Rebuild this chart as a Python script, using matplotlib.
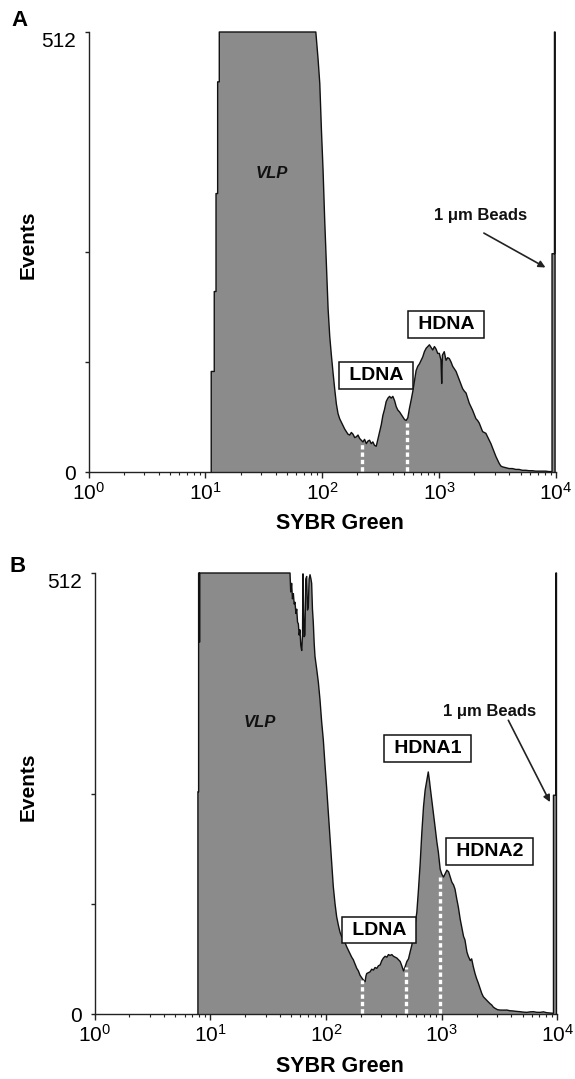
import matplotlib
matplotlib.use("Agg")
import matplotlib.pyplot as plt
import numpy as np

plt.rcParams['font.family'] = ['Liberation Sans', 'DejaVu Sans']
plt.rcParams['mathtext.fontset'] = 'custom'
plt.rcParams['mathtext.rm'] = 'Liberation Sans'
plt.rcParams['mathtext.it'] = 'Liberation Sans:italic'
plt.rcParams['mathtext.bf'] = 'Liberation Sans:bold'

# ---------------- data (log10 SYBR Green channel, events) ----------------
a_log = [1.050, 1.050, 1.076, 1.076, 1.091, 1.091, 1.105, 1.105, 1.119, 1.119,
         1.945, 1.955, 1.964, 1.979, 1.993, 2.007, 2.021, 2.036, 2.050, 2.064,
         2.078, 2.092, 2.107, 2.121, 2.135, 2.149, 2.163, 2.178, 2.192, 2.206,
         2.220, 2.235, 2.249, 2.263, 2.278, 2.292, 2.306, 2.320, 2.334, 2.348,
         2.362, 2.377, 2.391, 2.405, 2.419, 2.433, 2.447, 2.462, 2.476, 2.490,
         2.505, 2.519, 2.533, 2.547, 2.562, 2.576, 2.590, 2.604, 2.619, 2.633,
         2.647, 2.661, 2.675, 2.689, 2.704, 2.718, 2.732, 2.746, 2.761, 2.775,
         2.789, 2.803, 2.817, 2.832, 2.846, 2.860, 2.874, 2.889, 2.903, 2.917,
         2.931, 2.945, 2.960, 2.974, 2.988, 3.002, 3.016, 3.022, 3.028, 3.044,
         3.059, 3.073, 3.087, 3.102, 3.116, 3.130, 3.145, 3.159, 3.173, 3.187,
         3.201, 3.216, 3.230, 3.244, 3.258, 3.272, 3.286, 3.300, 3.315, 3.329,
         3.343, 3.357, 3.372, 3.386, 3.400, 3.414, 3.429, 3.443, 3.457, 3.471,
         3.486, 3.500, 3.514, 3.528, 3.542, 3.570, 3.599, 3.627, 3.656, 3.684,
         3.713, 3.741, 3.770, 3.798, 3.827, 3.855, 3.884, 3.912, 3.940, 3.966,
         3.966, 3.987, 3.987, 3.992, 3.992]
a_events = [0, 117, 117, 210, 210, 324, 324, 454, 454, 512,
            512, 495, 481, 452, 398, 351, 293, 239, 190, 158,
            136, 116, 96, 79, 68, 62, 58, 54, 50, 47,
            44, 43, 46, 44, 40, 41, 43, 39, 37, 35,
            38, 33, 36, 37, 33, 35, 31, 30, 38, 46,
            55, 66, 73, 82, 86, 88, 86, 88, 83, 76,
            72, 70, 67, 64, 61, 60, 63, 74, 84, 94,
            106, 118, 123, 126, 130, 134, 140, 144, 146, 148,
            145, 142, 146, 143, 138, 138, 130, 103, 136, 140,
            130, 133, 132, 128, 123, 120, 117, 112, 107, 102,
            97, 94, 92, 86, 80, 76, 72, 67, 62, 60,
            57, 52, 47, 46, 45, 41, 37, 33, 28, 23,
            18, 14, 10, 7, 6, 5, 4, 4, 3, 3,
            2, 2, 1.5, 1.5, 1, 1, 1, 1, 0.5, 0.5,
            254, 254, 512, 512, 0]

b_log = [0.893, 0.893, 0.899, 0.899, 0.904, 0.904, 0.909, 0.909,
         1.689, 1.695, 1.703, 1.710, 1.718, 1.725, 1.732, 1.740, 1.747, 1.754,
         1.761, 1.768, 1.775, 1.782, 1.790, 1.797, 1.801, 1.806, 1.811, 1.818,
         1.825, 1.833, 1.840, 1.847, 1.854, 1.862, 1.870, 1.876, 1.883, 1.890,
         1.898, 1.905, 1.920, 1.934, 1.948, 1.962, 1.977, 1.991, 2.006, 2.020,
         2.035, 2.049, 2.063, 2.078, 2.092, 2.107, 2.121, 2.135, 2.150, 2.164,
         2.179, 2.193, 2.208, 2.222, 2.236, 2.251, 2.266, 2.280, 2.294, 2.309,
         2.323, 2.338, 2.345, 2.352, 2.366, 2.381, 2.395, 2.410, 2.424, 2.439,
         2.453, 2.468, 2.482, 2.496, 2.511, 2.526, 2.540, 2.554, 2.569, 2.583,
         2.597, 2.612, 2.626, 2.641, 2.655, 2.670, 2.684, 2.699, 2.713, 2.727,
         2.742, 2.756, 2.770, 2.785, 2.799, 2.814, 2.828, 2.843, 2.857, 2.872,
         2.884, 2.895, 2.900, 2.913, 2.929, 2.942, 2.958, 2.971, 2.987, 3.002,
         3.016, 3.030, 3.045, 3.060, 3.074, 3.088, 3.102, 3.115, 3.131, 3.144,
         3.160, 3.173, 3.189, 3.201, 3.218, 3.230, 3.247, 3.259, 3.273, 3.288,
         3.302, 3.316, 3.331, 3.346, 3.360, 3.374, 3.388, 3.403, 3.418, 3.432,
         3.446, 3.461, 3.483, 3.504, 3.533, 3.562, 3.590, 3.619, 3.648, 3.677,
         3.706, 3.735, 3.764, 3.792, 3.821, 3.850, 3.879, 3.908, 3.937, 3.966,
         3.966, 3.987, 3.987, 3.992, 3.992]
b_events = [0, 258, 258, 512, 512, 432, 432, 512,
            512, 490, 500, 482, 488, 476, 478, 465, 470, 455,
            453, 440, 446, 428, 422, 440, 511, 470, 438, 440,
            505, 508, 469, 472, 505, 510, 505, 500, 470, 455,
            430, 415, 400, 385, 365, 340, 318, 290, 262, 234,
            205, 175, 148, 128, 113, 103, 95, 90, 86, 83,
            78, 74, 70, 66, 63, 58, 53, 50, 45, 42,
            39.5, 37.5, 44, 47, 48, 49, 52, 51, 54, 53,
            56, 57, 62, 65, 67, 66, 69, 68, 69, 67,
            66, 65, 63, 61, 56, 50, 55, 61, 64, 72,
            80, 92, 104, 118, 144, 175, 210, 241, 260, 272,
            281, 270, 264, 250, 233, 218, 200, 188, 168, 162,
            159, 163, 167, 165, 159, 153, 150, 145, 133, 124,
            110, 101, 90, 86, 72, 67, 62, 64, 55, 47,
            41, 36, 30, 24, 20, 18, 16, 14, 12, 10.5,
            8, 6.6, 5, 4.6, 4.5, 4.6, 3.8, 3.5, 3, 2.7,
            2.2, 1.9, 2.5, 2.7, 2, 1.9, 2.5, 1.5, 1.2, 0.8,
            254, 254, 512, 512, 0]

a_gates = [2.337, 2.722]
a_gate_heights = [35, 57]
b_gates = [2.314, 2.689, 2.985]
b_gate_heights = [40, 55, 159]

xtick_decades = [0, 1, 2, 3, 4]
ytick_values = [0, 128, 256, 512]
ytick_labels = ['0', '', '', '512']

FILL = '#8b8b8b'
W, H = 575, 1079
fig = plt.figure(figsize=(W / 100, H / 100), dpi=100)


def make_axes(left_px, right_px, top_px, bottom_px):
    return fig.add_axes([left_px / W, 1 - bottom_px / H,
                         (right_px - left_px) / W, (bottom_px - top_px) / H])


def draw_panel(ax, logs, events, gates, gate_h, labels, vlp_pos, beads_pos,
               arrow_start, arrow_end, ylab_x, xlab_x):
    x = 10 ** np.asarray(logs)
    y = np.asarray(events, dtype=float)
    ax.fill(np.r_[x, x[-1], x[0]], np.r_[y, 0, 0], color=FILL, lw=0, zorder=1)
    ax.plot(x, y, color='#111111', lw=1.0, zorder=3, clip_on=False)
    for g, h in zip(gates, gate_h):
        ax.plot([10 ** g, 10 ** g], [1.5, h], color='white', lw=2.4,
                linestyle=(0, (1.3, 0.9)), zorder=4, solid_capstyle='butt')
    ax.set_xscale('log')
    ax.set_xlim(1, 1e4)
    ax.set_ylim(0, 512)
    ax.set_xticks([10.0 ** d for d in xtick_decades])
    ax.set_yticks(ytick_values)
    ax.set_yticklabels(ytick_labels)
    for t, v in zip(ax.yaxis.get_major_ticks(), ytick_values):
        if v == 512:
            t.label1.set_verticalalignment('top')
    for s in ['top', 'right']:
        ax.spines[s].set_visible(False)
    for s in ['left', 'bottom']:
        ax.spines[s].set_linewidth(1.0)
        ax.spines[s].set_color('#222222')
    ax.tick_params(axis='x', which='major', length=4, width=1.0, labelsize=15,
                   pad=3, color='#222222')
    ax.tick_params(axis='x', which='minor', length=2.5, width=0.8, color='#222222')
    ax.tick_params(axis='y', which='major', length=3, width=1.0, labelsize=15,
                   pad=6, color='#222222')
    ax.set_xlabel('SYBR Green', fontsize=15.5, fontweight='bold', va='center')
    ax.xaxis.set_label_coords(xlab_x, -0.118)
    ax.set_ylabel('Events', fontsize=15, fontweight='bold', va='center')
    ax.yaxis.set_label_coords(ylab_x, 0.516)
    for (txt, lx, ly) in labels:
        ax.text(10 ** lx, ly, ' ' + txt + ' ', ha='center', va='center',
                fontsize=14, fontweight='bold', zorder=6,
                bbox=dict(boxstyle='square,pad=0.25', fc='white', ec='#111111', lw=1.1))
    ax.text(10 ** vlp_pos[0], vlp_pos[1], 'VLP', ha='center', va='center',
            fontsize=12, fontweight='bold', style='italic', color='#111111', zorder=6)
    ax.text(10 ** beads_pos[0], beads_pos[1], '1 μm Beads', ha='center', va='center',
            fontsize=12, fontweight='bold', color='#111111', zorder=6)
    ax.annotate('', xy=(10 ** arrow_end[0], arrow_end[1]),
                xytext=(10 ** arrow_start[0], arrow_start[1]),
                arrowprops=dict(arrowstyle='-|>', lw=1.2, color='#222222',
                                mutation_scale=10, shrinkA=0, shrinkB=0), zorder=6)


axA = make_axes(88.5, 556, 32, 472)
draw_panel(axA, a_log, a_events, a_gates, a_gate_heights,
           [('LDNA', 2.458, 112), ('HDNA', 3.056, 172)],
           (1.567, 347), (3.352, 299), (3.383, 278), (3.910, 238),
           -0.129, 0.538)

axB = make_axes(94.6, 557.4, 573, 1014)
draw_panel(axB, b_log, b_events, b_gates, b_gate_heights,
           [('LDNA', 2.460, 97.5), ('HDNA1', 2.877, 308.5), ('HDNA2', 3.415, 188.4)],
           (1.430, 339), (3.417, 351), (3.576, 341), (3.936, 246),
           -0.143, 0.530)

fig.text(20 / W, 1 - 21 / H, 'A', ha='center', va='center', fontsize=16, fontweight='bold')
fig.text(18 / W, 1 - 566 / H, 'B', ha='center', va='center', fontsize=16, fontweight='bold')

fig.savefig('out.png', dpi=100, facecolor='white')
